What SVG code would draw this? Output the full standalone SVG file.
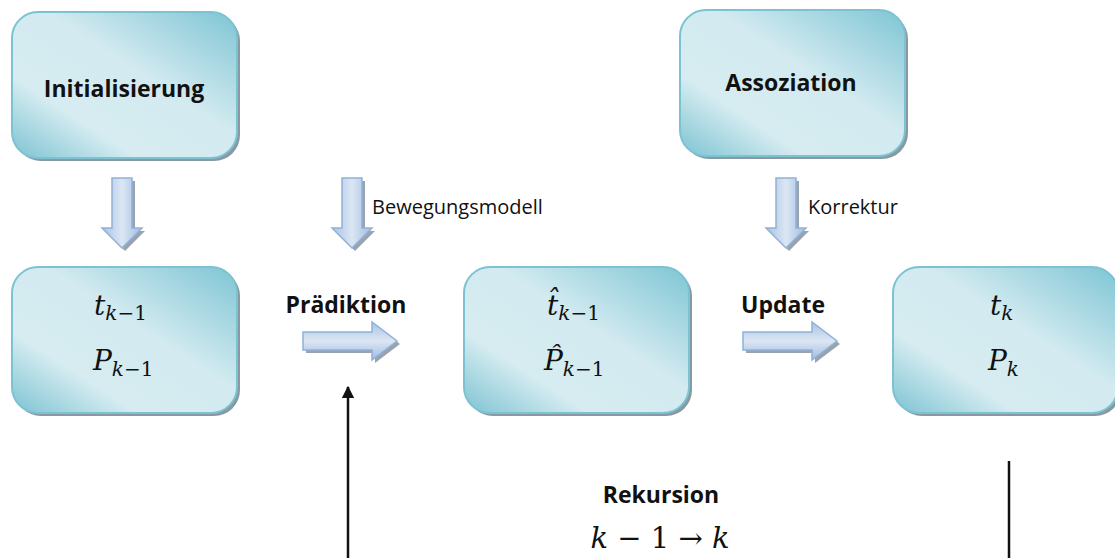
<svg xmlns="http://www.w3.org/2000/svg" width="1115" height="558" viewBox="0 0 1115 558">
<style>
.box{fill:url(#boxg);stroke:#7cc2d2;stroke-width:2}
.shadow{fill:#879aa1}
.arr{fill:url(#arrg);stroke:#8fb1da;stroke-width:1.5}
.arrh{fill:url(#arrgh);stroke:#8fb1da;stroke-width:1.5}
.ash{fill:#9aa3ad}
.lbl{font-family:"Open Sans","Noto Sans",sans-serif;font-weight:bold;font-size:23px;fill:#111}
.sm{font-family:"Open Sans","Noto Sans",sans-serif;font-size:20px;fill:#111}
.m{font-family:"DejaVu Serif","Liberation Serif",serif;font-style:italic;font-size:28px;fill:#111}
.mu{font-style:normal}
.sub{font-size:20px}
.line{stroke:#111;stroke-width:2.5;fill:none}
</style>
<defs>
<linearGradient id="boxg" x1="1" y1="0" x2="0" y2="1">
<stop offset="0" stop-color="#7ec5d4"/>
<stop offset="0.42" stop-color="#d2eaf0"/>
<stop offset="0.72" stop-color="#d6ecf1"/>
<stop offset="1" stop-color="#7cc3d2"/>
</linearGradient>
<linearGradient id="arrg" x1="0" y1="0" x2="1" y2="0">
<stop offset="0" stop-color="#a9c3e3"/>
<stop offset="0.5" stop-color="#dbe6f3"/>
<stop offset="1" stop-color="#9fbbe0"/>
</linearGradient>
<linearGradient id="arrgh" x1="0" y1="0" x2="0" y2="1">
<stop offset="0" stop-color="#a9c3e3"/>
<stop offset="0.5" stop-color="#dbe6f3"/>
<stop offset="1" stop-color="#9fbbe0"/>
</linearGradient>
<marker id="ah" viewBox="0 0 10 10" refX="9" refY="5" markerWidth="5" markerHeight="5" orient="auto">
<path d="M0,0 L10,5 L0,10 z" fill="#111"/>
</marker>
<path id="down" d="M-10,0 H10 V50 H20 L0,70 L-20,50 H-10 Z"/>
<path id="right" d="M0,-9 H69 V-19 L94,0 L69,19 V9 H0 Z"/>
</defs>

<g id="init">
<rect class="shadow" x="15" y="15" width="225" height="146" rx="26"/>
<rect class="box" x="12" y="12" width="225" height="146" rx="26"/>
<text class="lbl" x="124" y="97" text-anchor="middle">Initialisierung</text>
</g>

<g id="assoz">
<rect class="shadow" x="683" y="13" width="225" height="146" rx="26"/>
<rect class="box" x="680" y="10" width="225" height="146" rx="26"/>
<text class="lbl" x="791" y="91" text-anchor="middle">Assoziation</text>
</g>

<g id="state-prev">
<rect class="shadow" x="15" y="270" width="225" height="146" rx="26"/>
<rect class="box" x="12" y="267" width="225" height="146" rx="26"/>
<text class="m" x="94" y="315">t<tspan class="sub" dy="5">k</tspan><tspan class="sub mu">−1</tspan></text>
<text class="m" x="93" y="370">P<tspan class="sub" dy="6">k</tspan><tspan class="sub mu">−1</tspan></text>
</g>

<g id="state-pred">
<rect class="shadow" x="467" y="270" width="225" height="146" rx="26"/>
<rect class="box" x="464" y="267" width="225" height="146" rx="26"/>
<text class="m" x="547" y="315">t̂<tspan class="sub" dy="5">k</tspan><tspan class="sub mu">−1</tspan></text>
<text class="m" x="544" y="370">P̂<tspan class="sub" dy="6">k</tspan><tspan class="sub mu">−1</tspan></text>
</g>

<g id="state-new">
<rect class="shadow" x="896" y="270" width="225" height="146" rx="26"/>
<rect class="box" x="893" y="267" width="225" height="146" rx="26"/>
<text class="m" x="990" y="315">t<tspan class="sub" dy="5">k</tspan></text>
<text class="m" x="988" y="370">P<tspan class="sub" dy="6">k</tspan></text>
</g>

<g id="connectors">
<use href="#down" class="ash" transform="translate(125,181)"/>
<use href="#down" class="arr" transform="translate(122,178)"/>
<use href="#down" class="ash" transform="translate(355,181)"/>
<use href="#down" class="arr" transform="translate(352,178)"/>
<use href="#down" class="ash" transform="translate(789,181)"/>
<use href="#down" class="arr" transform="translate(786,178)"/>
<use href="#right" class="ash" transform="translate(306,344)"/>
<use href="#right" class="arrh" transform="translate(303,341)"/>
<use href="#right" class="ash" transform="translate(746,344)"/>
<use href="#right" class="arrh" transform="translate(743,341)"/>
<line class="line" x1="348" y1="558" x2="348" y2="387" marker-end="url(#ah)"/>
<line class="line" x1="1009" y1="461" x2="1009" y2="558"/>
</g>

<g id="labels">
<text class="sm" x="372" y="214">Bewegungsmodell</text>
<text class="sm" x="808" y="214">Korrektur</text>
<text class="lbl" x="346" y="313" text-anchor="middle">Prädiktion</text>
<text class="lbl" x="783" y="313" text-anchor="middle">Update</text>
<text class="lbl" x="661" y="503" text-anchor="middle">Rekursion</text>
<text class="m" x="660" y="548" text-anchor="middle" style="font-size:29px">k <tspan class="mu">− 1 → </tspan>k</text>
</g>
</svg>
